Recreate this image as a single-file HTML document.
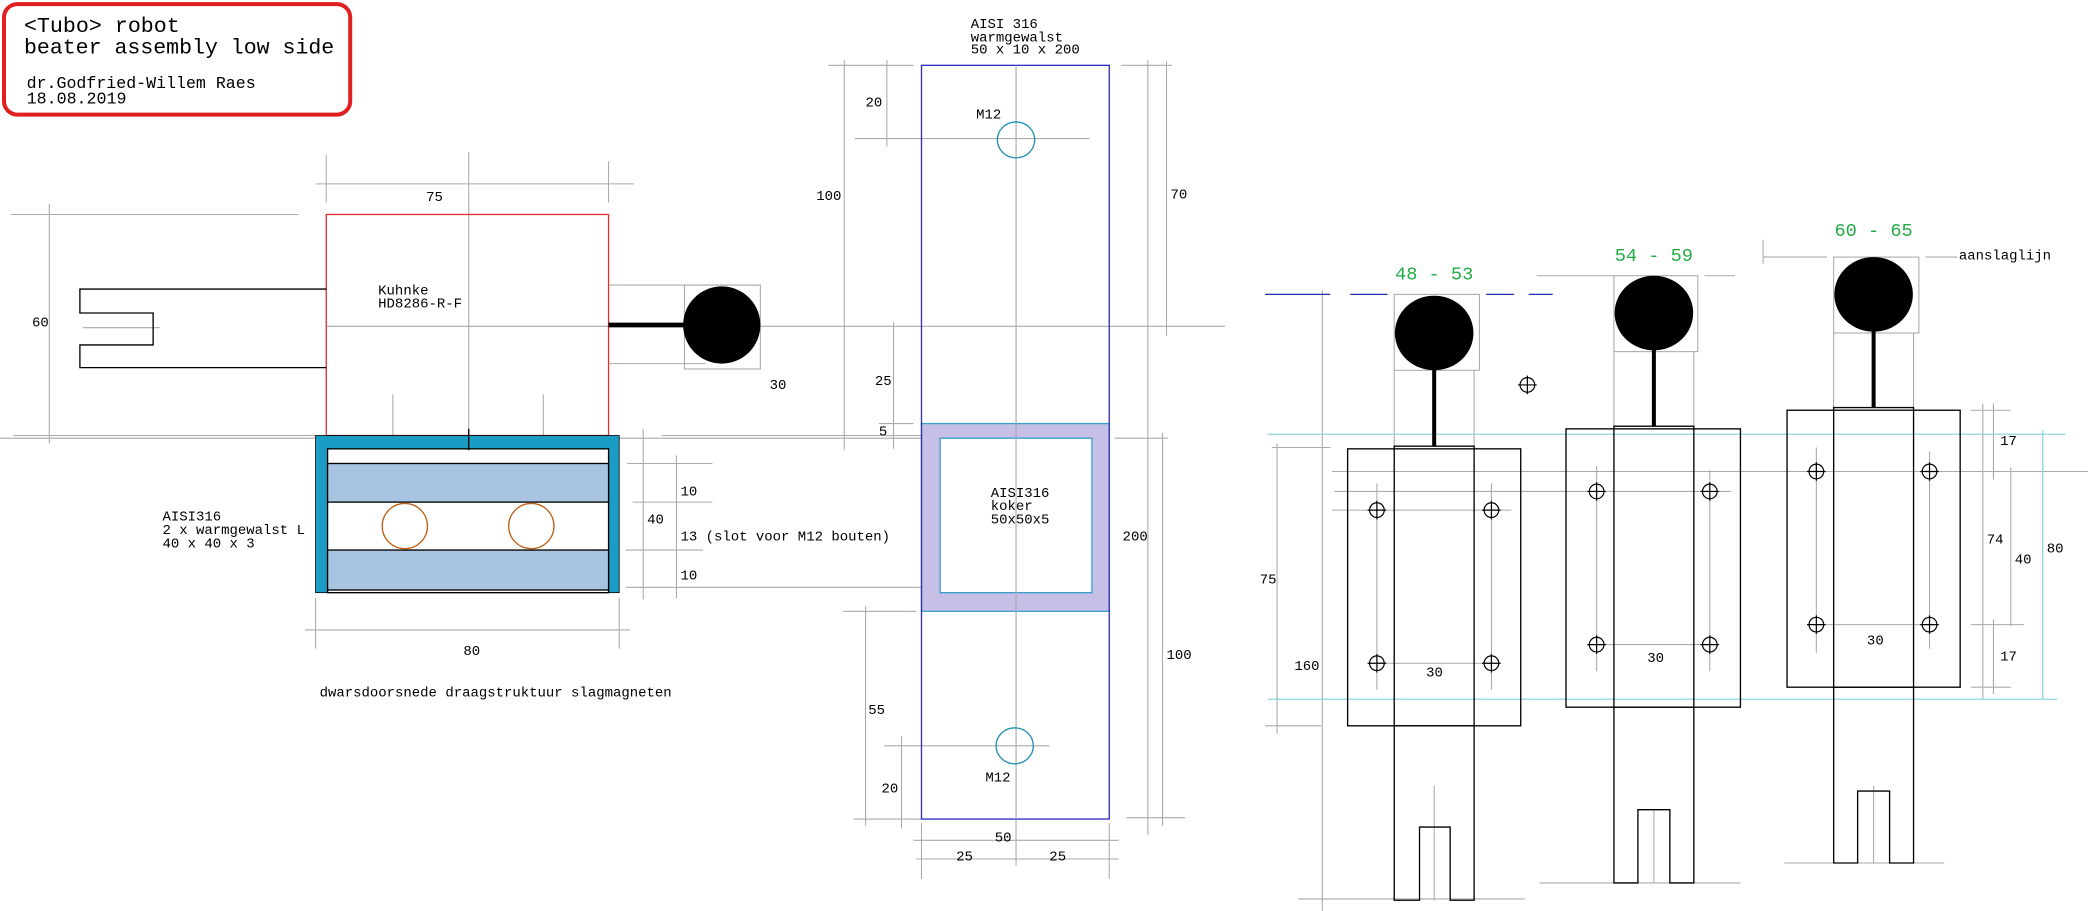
<!DOCTYPE html>
<html><head><meta charset="utf-8"><style>
html,body{margin:0;padding:0;background:#fff;}
svg{display:block}
text{font-family:"Liberation Mono",monospace;fill:#000}
</style></head><body>
<svg width="2088" height="911" viewBox="0 0 1568 684" xmlns="http://www.w3.org/2000/svg">
<defs>
<g id="h"><circle cx="0" cy="0" r="5.5"/><line x1="-7" y1="0" x2="7" y2="0"/><line x1="0" y1="-7" x2="0" y2="7"/></g>
</defs>
<rect width="1568" height="684" fill="#fff"/>
<!-- title -->
<rect x="3" y="3" width="260" height="83" rx="10" fill="#fff" stroke="#e02020" stroke-width="3"/>
<text x="18" y="24" font-size="16" textLength="117" lengthAdjust="spacingAndGlyphs">&lt;Tubo&gt; robot</text>
<text x="18" y="40" font-size="16" textLength="233" lengthAdjust="spacingAndGlyphs">beater assembly low side</text>
<text x="20" y="66" font-size="12.5" textLength="172" lengthAdjust="spacingAndGlyphs">dr.Godfried-Willem Raes</text>
<text x="20" y="77.5" font-size="12.5" textLength="75" lengthAdjust="spacingAndGlyphs">18.08.2019</text>

<g stroke="#aaa" stroke-width="0.8" fill="none">
<line x1="237" y1="138" x2="476" y2="138"/><line x1="245" y1="116" x2="245" y2="152"/><line x1="457" y1="121" x2="457" y2="152"/>
<line x1="352" y1="114" x2="352" y2="330"/>
<line x1="8" y1="161" x2="224" y2="161"/><line x1="37" y1="153" x2="37" y2="333"/>
<line x1="10" y1="327" x2="237" y2="327"/>
<line x1="62" y1="246" x2="120" y2="246"/>
<line x1="245" y1="245" x2="920" y2="245"/>
<line x1="457" y1="214" x2="571" y2="214"/><line x1="457" y1="273" x2="530" y2="273"/>
<rect x="514" y="214" width="57" height="63"/>
<line x1="295" y1="296" x2="295" y2="327"/><line x1="408" y1="296" x2="408" y2="327"/>
<line x1="272" y1="380" x2="272" y2="390"/><line x1="428" y1="380" x2="428" y2="392"/>
<line x1="229" y1="473" x2="473" y2="473"/><line x1="237" y1="449" x2="237" y2="487"/><line x1="465" y1="449" x2="465" y2="487"/>
<line x1="483" y1="322" x2="483" y2="450"/><line x1="508" y1="342" x2="508" y2="449"/>
<line x1="497" y1="327" x2="692" y2="327"/>
<line x1="471" y1="348" x2="535" y2="348"/><line x1="475" y1="377" x2="535" y2="377"/><line x1="470" y1="413" x2="528" y2="413"/>
<line x1="470" y1="441" x2="692" y2="441"/>
<line x1="763" y1="49" x2="763" y2="622"/>
<line x1="642" y1="104" x2="818" y2="104"/>
<line x1="664" y1="560" x2="788" y2="560"/>
<line x1="634" y1="45" x2="634" y2="338"/><line x1="622" y1="49" x2="686" y2="49"/>
<line x1="666" y1="45" x2="666" y2="110"/>
<line x1="671" y1="242" x2="671" y2="337"/><line x1="660" y1="318" x2="686" y2="318"/>
<line x1="0" y1="329" x2="692" y2="329"/>
<line x1="650" y1="455" x2="650" y2="620"/><line x1="633" y1="459" x2="688" y2="459"/>
<line x1="677" y1="553" x2="677" y2="622"/><line x1="641" y1="615" x2="692" y2="615"/>
<line x1="862" y1="45" x2="862" y2="627"/><line x1="876" y1="46" x2="876" y2="252"/><line x1="842" y1="49" x2="880" y2="49"/>
<line x1="873" y1="325" x2="873" y2="620"/><line x1="837" y1="329" x2="877" y2="329"/><line x1="846" y1="614" x2="890" y2="614"/>
<line x1="686" y1="631" x2="840" y2="631"/><line x1="688" y1="645" x2="840" y2="645"/>
<line x1="692" y1="618" x2="692" y2="660"/><line x1="763" y1="622" x2="763" y2="650"/><line x1="833" y1="618" x2="833" y2="660"/>
<line x1="993" y1="218" x2="993" y2="684"/><line x1="959" y1="333" x2="959" y2="551"/>
<line x1="955" y1="336" x2="999" y2="336"/><line x1="950" y1="545" x2="992" y2="545"/><line x1="975" y1="675" x2="1145" y2="675"/>
<rect x="1047" y="221" width="64" height="57"/>
<line x1="1047" y1="278" x2="1047" y2="335"/><line x1="1107" y1="278" x2="1107" y2="335"/>
<rect x="1212" y="207" width="63" height="57"/>
<line x1="1154" y1="207" x2="1212" y2="207"/><line x1="1280" y1="207" x2="1303" y2="207"/>
<line x1="1212" y1="264" x2="1212" y2="320"/><line x1="1272" y1="264" x2="1272" y2="320"/>
<line x1="1156" y1="663" x2="1307" y2="663"/>
<rect x="1377" y="193" width="64" height="57"/>
<line x1="1324" y1="193" x2="1372" y2="193"/><line x1="1446" y1="193" x2="1470" y2="193"/>
<line x1="1324" y1="180" x2="1324" y2="198"/>
<line x1="1377" y1="250" x2="1377" y2="306"/><line x1="1437" y1="250" x2="1437" y2="306"/>
<line x1="1340" y1="648" x2="1460" y2="648"/>
<line x1="1000" y1="354" x2="1568" y2="354"/><line x1="1002" y1="369" x2="1300" y2="369"/><line x1="1000" y1="383" x2="1135" y2="383"/>
<line x1="1489" y1="303" x2="1489" y2="525"/><line x1="1497" y1="303" x2="1497" y2="360"/><line x1="1497" y1="465" x2="1497" y2="521"/>
<line x1="1510" y1="351" x2="1510" y2="470"/>
<line x1="1480" y1="308" x2="1510" y2="308"/><line x1="1480" y1="469" x2="1520" y2="469"/><line x1="1480" y1="516" x2="1510" y2="516"/>
<line x1="1034" y1="363" x2="1034" y2="518"/><line x1="1120" y1="363" x2="1120" y2="518"/>
<line x1="1034" y1="498" x2="1120" y2="498"/>
<line x1="1199" y1="350" x2="1199" y2="504"/><line x1="1284" y1="353" x2="1284" y2="504"/>
<line x1="1199" y1="484" x2="1290" y2="484"/>
<line x1="1364" y1="336" x2="1364" y2="490"/><line x1="1449" y1="339" x2="1449" y2="487"/>
<line x1="1364" y1="469" x2="1455" y2="469"/>
<line x1="1077" y1="590" x2="1077" y2="676"/><line x1="1242" y1="608" x2="1242" y2="663"/><line x1="1407" y1="590" x2="1407" y2="648"/>
</g>
<g stroke="#80d0e0" stroke-width="0.9">
<line x1="952" y1="326" x2="1551" y2="326"/><line x1="952" y1="525" x2="1545" y2="525"/>
<line x1="1534" y1="323" x2="1534" y2="525"/>
</g>
<g stroke="#2030b0" stroke-width="1">
<line x1="950" y1="221" x2="999" y2="221"/><line x1="1014" y1="221" x2="1042" y2="221"/><line x1="1116" y1="221" x2="1137" y2="221"/><line x1="1148" y1="221" x2="1166" y2="221"/>
</g>

<rect x="245" y="161" width="212" height="166" fill="none" stroke="#e03030" stroke-width="1"/>
<polyline points="245,217 60,217 60,235 115,235 115,259 60,259 60,276 245,276" fill="none" stroke="#000" stroke-width="1"/>
<line x1="457" y1="244" x2="516" y2="244" stroke="#000" stroke-width="3.5"/>
<circle cx="542" cy="244" r="29" fill="#000"/>
<rect x="237" y="327" width="228" height="118" fill="#1b9cc4" stroke="#000" stroke-width="0.6"/>
<rect x="246" y="337" width="211" height="108" fill="#fff" stroke="#000" stroke-width="1"/>
<rect x="246" y="348" width="211" height="29" fill="#a8c4e0" stroke="#000" stroke-width="1"/>
<rect x="246" y="413" width="211" height="30" fill="#a8c4e0" stroke="#000" stroke-width="1"/>
<circle cx="304" cy="395" r="17" fill="none" stroke="#c0601a" stroke-width="1"/>
<circle cx="399" cy="395" r="17" fill="none" stroke="#c0601a" stroke-width="1"/>
<line x1="352" y1="322" x2="352" y2="338" stroke="#000" stroke-width="1"/>

<rect x="692" y="318" width="141" height="141" fill="#c6bfe6" stroke="#3aa0d0" stroke-width="1"/>
<rect x="706" y="329" width="114" height="116" fill="#fff" stroke="#3aa0d0" stroke-width="1"/>
<rect x="692" y="49" width="141" height="566" fill="none" stroke="#3030c0" stroke-width="1"/>
<line x1="763" y1="49" x2="763" y2="615" stroke="#aaa" stroke-width="0.8"/>
<ellipse cx="763" cy="105" rx="14" ry="13.5" fill="none" stroke="#2090b0" stroke-width="1"/>
<ellipse cx="762" cy="560" rx="14" ry="13.5" fill="none" stroke="#2090b0" stroke-width="1"/>

<g fill="none" stroke="#000" stroke-width="1">
<rect x="1012" y="337" width="130" height="208"/>
<rect x="1047" y="335" width="60" height="210"/>
<polyline points="1047,545 1047,676 1066,676 1066,621 1089,621 1089,676 1107,676 1107,545"/>
<rect x="1176" y="322" width="131" height="209"/>
<rect x="1212" y="320" width="60" height="211"/>
<polyline points="1212,531 1212,663 1230,663 1230,608 1254,608 1254,663 1272,663 1272,531"/>
<rect x="1342" y="308" width="130" height="208"/>
<rect x="1377" y="306" width="60" height="210"/>
<polyline points="1377,516 1377,648 1395,648 1395,594 1419,594 1419,648 1437,648 1437,516"/>
</g>
<g stroke="#000" stroke-width="3">
<line x1="1077" y1="270" x2="1077" y2="335"/><line x1="1242" y1="255" x2="1242" y2="320"/><line x1="1407" y1="240" x2="1407" y2="306"/>
</g>
<ellipse cx="1077" cy="250" rx="29.5" ry="28" fill="#000"/>
<ellipse cx="1242" cy="235" rx="29.5" ry="28" fill="#000"/>
<ellipse cx="1407" cy="221" rx="29.5" ry="28" fill="#000"/>
<g fill="none" stroke="#000" stroke-width="0.9">
<use href="#h" x="1034" y="383"/><use href="#h" x="1120" y="383"/><use href="#h" x="1034" y="498"/><use href="#h" x="1120" y="498"/>
<use href="#h" x="1199" y="369"/><use href="#h" x="1284" y="369"/><use href="#h" x="1199" y="484"/><use href="#h" x="1284" y="484"/>
<use href="#h" x="1364" y="354"/><use href="#h" x="1449" y="354"/><use href="#h" x="1364" y="469"/><use href="#h" x="1449" y="469"/>
<use href="#h" x="1147" y="289"/>
</g>

<g font-size="10.5">
<text x="320" y="151">75</text>
<text x="284" y="221">Kuhnke</text><text x="284" y="231">HD8286-R-F</text>
<text x="24" y="245">60</text>
<text x="578" y="292">30</text>
<text x="122" y="391">AISI316</text><text x="122" y="401">2 x warmgewalst L</text><text x="122" y="411">40 x 40 x 3</text>
<text x="486" y="393">40</text>
<text x="511" y="372">10</text><text x="511" y="406">13 (slot voor M12 bouten)</text><text x="511" y="435">10</text>
<text x="348" y="492">80</text>
<text x="240" y="523">dwarsdoorsnede draagstruktuur slagmagneten</text>
<text x="729" y="21">AISI 316</text><text x="729" y="31">warmgewalst</text><text x="729" y="40">50 x 10 x 200</text>
<text x="733" y="89">M12</text><text x="740" y="587">M12</text>
<text x="650" y="80">20</text><text x="613" y="150">100</text><text x="657" y="289">25</text><text x="660" y="327">5</text>
<text x="744" y="373">AISI316</text><text x="744" y="383">koker</text><text x="744" y="393">50x50x5</text>
<text x="652" y="536">55</text><text x="662" y="595">20</text>
<text x="879" y="149">70</text><text x="843" y="406">200</text><text x="876" y="495">100</text>
<text x="747" y="632">50</text><text x="718" y="646">25</text><text x="788" y="646">25</text>
<text x="946" y="438">75</text><text x="972" y="503">160</text>
<text x="1071" y="508">30</text><text x="1237" y="497">30</text><text x="1402" y="484">30</text>
<text x="1471" y="195">aanslaglijn</text>
<text x="1502" y="334">17</text><text x="1492" y="408">74</text><text x="1513" y="423">40</text><text x="1537" y="415">80</text><text x="1502" y="496">17</text>
</g>
<g font-size="14">
<text x="1077" y="210" text-anchor="middle" style="fill:#22aa44">48 - 53</text>
<text x="1242" y="196" text-anchor="middle" style="fill:#22aa44">54 - 59</text>
<text x="1407" y="177" text-anchor="middle" style="fill:#22aa44">60 - 65</text>
</g>
</svg>
</body></html>
